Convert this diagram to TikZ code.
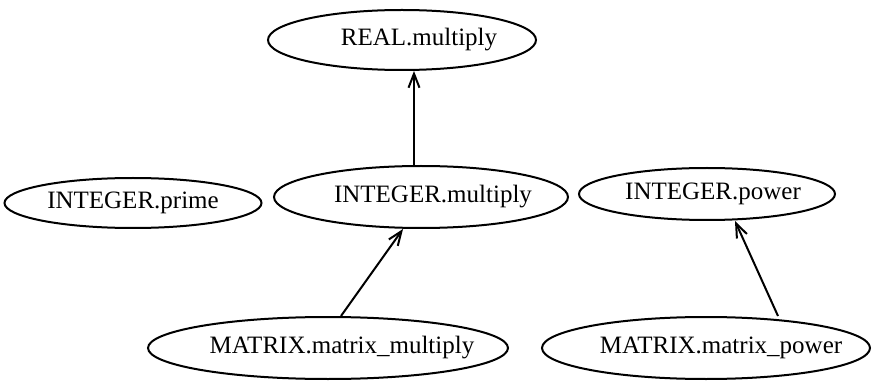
\documentclass[tikz,border=0pt]{standalone}
\usepackage{fontspec}
\setmainfont{Liberation Serif}
\usetikzlibrary{shapes.geometric,arrows.meta}
\begin{document}
\begin{tikzpicture}[x=1pt,y=-1pt,
  op/.style={draw,ellipse,line width=2pt,inner sep=0pt,
    label={[font=\fontsize{25}{30}\selectfont,inner sep=0pt]center:#1}},
  arr/.style={line width=2pt,-{Straight Barb[length=14pt,width=11pt,line width=2pt]}}]
  \useasboundingbox (0,0) rectangle (873,382);
  % method nodes: the ellipse is sized explicitly, the name sits in a centred label
  \node[op={\hspace*{34pt}REAL.multiply},minimum width=268pt,minimum height=60pt] (rm) at (402,40) {};
  \node[op={INTEGER.prime},minimum width=257pt,minimum height=50pt] (ipr) at (133,203) {};
  \node[op={\hspace*{24pt}INTEGER.multiply},minimum width=294pt,minimum height=62pt] (im) at (421,197) {};
  \node[op={\hspace*{12pt}INTEGER.power},minimum width=256pt,minimum height=52pt] (ip) at (707,194) {};
  \node[op={\hspace*{28pt}MATRIX.matrix\_multiply},minimum width=360pt,minimum height=62pt] (mm) at (328,348) {};
  \node[op={\hspace*{30pt}MATRIX.matrix\_power},minimum width=328pt,minimum height=62pt] (mp) at (706,348) {};
  % call edges
  \draw[arr] ([xshift=-7pt]im.north) -- ([xshift=12pt]rm.south);
  \draw[arr] ([xshift=13pt]mm.north) -- ([xshift=-18pt]im.south);
  \draw[arr] ([xshift=72pt]mp.north) -- ([xshift=28pt]ip.south);
\end{tikzpicture}
\end{document}
